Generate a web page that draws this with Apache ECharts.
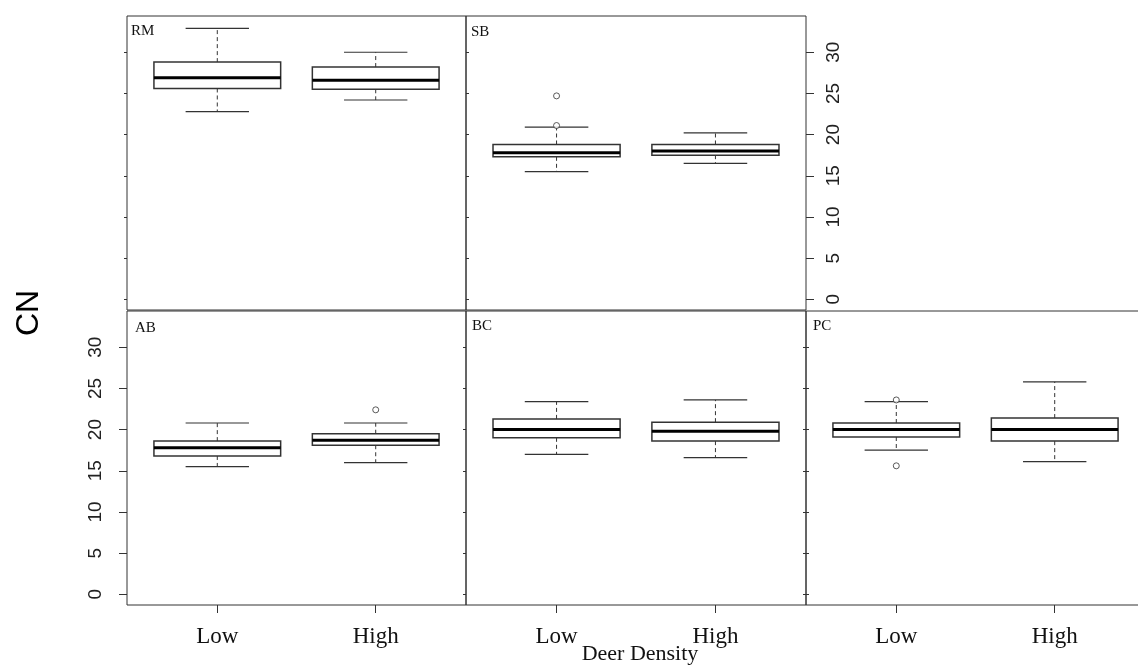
<!DOCTYPE html>
<html><head><meta charset="utf-8">
<script src="https://cdn.jsdelivr.net/npm/echarts@6/dist/echarts.min.js"></script>
<style>html,body{margin:0;padding:0;background:#fff}#c{width:1138px;height:667px}</style>
</head><body><div id="c"></div>
<script>
// ---- data ----
const categories = ['Low', 'High'];
const panelNames = ['RM', 'SB', 'AB', 'BC', 'PC'];
const yTicks = [0, 5, 10, 15, 20, 25, 30];
// [lower whisker, Q1, median, Q3, upper whisker] for Low, High
const statsRM = [[22.8, 25.6, 26.9, 28.8, 32.9], [24.2, 25.5, 26.6, 28.2, 30.0]];
const statsSB = [[15.5, 17.3, 17.8, 18.8, 20.9], [16.5, 17.5, 18.0, 18.8, 20.2]];
const statsAB = [[15.5, 16.8, 17.8, 18.6, 20.8], [16.0, 18.1, 18.7, 19.5, 20.8]];
const statsBC = [[17.0, 19.0, 20.0, 21.3, 23.4], [16.6, 18.6, 19.8, 20.9, 23.6]];
const statsPC = [[17.5, 19.1, 20.0, 20.8, 23.4], [16.1, 18.6, 20.0, 21.4, 25.8]];
const outliersRM = [];
const outliersSB = [['Low', 24.7], ['Low', 21.1]];
const outliersAB = [['High', 22.4]];
const outliersBC = [];
const outliersPC = [['Low', 23.6], ['Low', 15.6]];

const allStats = [statsRM, statsSB, statsAB, statsBC, statsPC];
const allOutliers = [outliersRM, outliersSB, outliersAB, outliersBC, outliersPC];

// ---- layout ----
const SERIF = "'Liberation Serif','Times New Roman',serif";
const SANS = "'Liberation Sans',Arial,sans-serif";
const INK = '#333';
const grids = [
  { left: 127, top: 16, width: 339, height: 294 },
  { left: 466, top: 16, width: 340, height: 294 },
  { left: 127, top: 311, width: 339, height: 294 },
  { left: 466, top: 311, width: 340, height: 294 },
  { left: 806, top: 311, width: 339, height: 294 }
].map(g => Object.assign({ show: true, borderColor: INK, borderWidth: 1, backgroundColor: 'transparent',
  containLabel: false, outerBoundsMode: 'none' }, g));

const labelPos = [[131, 32], [471, 33], [135, 329], [472, 327], [813, 327]];
const bottomRow = [false, false, true, true, true];

const xAxes = grids.map((g, i) => ({
  type: 'value', gridIndex: i, min: 0.43, max: 2.57, position: 'bottom',
  splitLine: { show: false }, axisLine: { show: false, onZero: false },
  axisTick: { show: bottomRow[i], customValues: [1, 2], length: 8, lineStyle: { color: INK } },
  axisLabel: {
    show: bottomRow[i], customValues: [1, 2], margin: 20,
    formatter: v => categories[Math.round(v) - 1] || '',
    fontFamily: SERIF, fontSize: 23, color: '#111'
  }
}));

function yAx(gridIndex, position, tickLen, showLabel, margin) {
  return {
    type: 'value', gridIndex, position, min: -1.3, max: 34.4,
    splitLine: { show: false }, axisLine: { show: false, onZero: false },
    axisTick: { show: true, customValues: yTicks, length: tickLen, lineStyle: { color: INK } },
    axisLabel: {
      show: showLabel, customValues: yTicks, rotate: 90, margin: margin || 8,
      fontFamily: SANS, fontSize: 19, color: '#222'
    }
  };
}
const yAxes = [
  yAx(0, 'left', 3, false),      // 0
  yAx(0, 'right', 3, false),     // 1
  yAx(1, 'right', 8, true, 18),  // 2
  yAx(2, 'left', 8, true, 22),   // 3
  yAx(3, 'left', 3, false),      // 4
  yAx(3, 'right', 3, false),     // 5
  yAx(4, 'left', 3, false)       // 6
];
const yIndexForGrid = [0, 2, 3, 4, 6];

function renderBox(params, api) {
  const x = api.value(0);
  const lo = api.value(1), q1 = api.value(2), med = api.value(3), q3 = api.value(4), hi = api.value(5);
  const hw = 0.4, cw = 0.2;
  const p = (xx, yy) => api.coord([xx, yy]);
  const seg = (A, B, style) => ({ type: 'line', shape: { x1: A[0], y1: A[1], x2: B[0], y2: B[1] }, style });
  const tl = p(x - hw, q3), br = p(x + hw, q1);
  const dash = { stroke: INK, lineWidth: 1, lineDash: [4, 3] };
  const solid = { stroke: INK, lineWidth: 1.2 };
  return {
    type: 'group',
    children: [
      seg(p(x, q3), p(x, hi), dash),
      seg(p(x, q1), p(x, lo), dash),
      seg(p(x - cw, hi), p(x + cw, hi), solid),
      seg(p(x - cw, lo), p(x + cw, lo), solid),
      { type: 'rect', shape: { x: tl[0], y: tl[1], width: br[0] - tl[0], height: br[1] - tl[1] },
        style: { fill: '#fff', stroke: INK, lineWidth: 1.5 } },
      seg(p(x - hw, med), p(x + hw, med), { stroke: '#000', lineWidth: 3 })
    ]
  };
}

const series = [];
allStats.forEach((st, i) => {
  series.push({
    type: 'custom', xAxisIndex: i, yAxisIndex: yIndexForGrid[i],
    renderItem: renderBox,
    data: st.map((s, k) => [k + 1].concat(s)),
    z: 2, silent: true
  });
  const outs = allOutliers[i];
  if (outs.length) {
    series.push({
      type: 'scatter', xAxisIndex: i, yAxisIndex: yIndexForGrid[i],
      data: outs.map(o => [categories.indexOf(o[0]) + 1, o[1]]),
      symbol: 'circle', symbolSize: 6,
      itemStyle: { color: '#fff', borderColor: INK, borderWidth: 1 },
      z: 3, silent: true
    });
  }
});

const graphics = panelNames.map((n, i) => ({
  type: 'text', left: labelPos[i][0], top: labelPos[i][1] - 8,
  style: { text: n, font: '15px ' + SERIF, fill: '#111' }
}));
graphics.push({
  type: 'text', x: 29, y: 313, rotation: Math.PI / 2,
  style: { text: 'CN', font: '32px ' + SANS, fill: '#000', align: 'center', verticalAlign: 'middle' }
});
graphics.push({
  type: 'text', x: 640, y: 654,
  style: { text: 'Deer Density', font: '22px ' + SERIF, fill: '#111', align: 'center', verticalAlign: 'middle' }
});

const chart = echarts.init(document.getElementById('c'), null, { renderer: 'canvas' });
chart.setOption({
  animation: false,
  backgroundColor: '#fff',
  grid: grids,
  xAxis: xAxes,
  yAxis: yAxes,
  series,
  graphic: graphics
});
</script></body></html>
